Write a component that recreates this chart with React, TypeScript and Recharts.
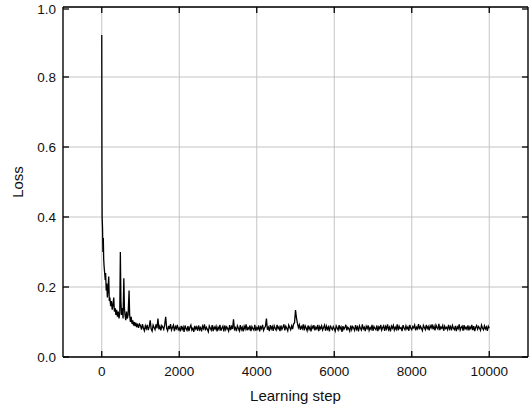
import React from "react";
import {
  LineChart,
  Line,
  XAxis,
  YAxis,
  CartesianGrid,
  Label,
} from "recharts";

// early phase of training
const earlySteps = [
  0, 5, 10, 20, 30, 40, 50, 60, 75, 90, 100, 115, 130, 145, 160, 180, 195, 210,
  230, 250, 270, 290, 310, 325, 345, 365, 385, 405, 425, 445, 465, 480, 495,
  510, 530, 550, 570, 585, 600, 620, 640, 660, 680, 705, 720, 740, 760, 780,
  800, 820, 840, 860, 880, 900, 925, 950, 975,
];
const earlyLoss = [
  0.92, 0.55, 0.4, 0.37, 0.3, 0.34, 0.28, 0.26, 0.24, 0.22, 0.24, 0.19, 0.21,
  0.17, 0.19, 0.23, 0.16, 0.17, 0.145, 0.16, 0.135, 0.15, 0.17, 0.13, 0.14,
  0.12, 0.135, 0.115, 0.13, 0.11, 0.125, 0.3, 0.16, 0.12, 0.14, 0.11, 0.225,
  0.14, 0.12, 0.105, 0.13, 0.11, 0.12, 0.19, 0.12, 0.1, 0.115, 0.095, 0.105,
  0.09, 0.1, 0.088, 0.098, 0.085, 0.095, 0.083, 0.094,
];

// plateau from step 1000 to 10000, one value every 25 steps
const plateauStart = 1000;
const plateauStep = 25;
const plateauLoss = [
  0.09, 0.078, 0.094, 0.083, 0.075, 0.089, 0.081, 0.092, 0.077, 0.086, 0.105, 0.08, 0.074, 0.091, 0.084, 0.078, 0.093, 0.082, 0.11, 0.079,
  0.088, 0.076, 0.09, 0.085, 0.079, 0.093, 0.115, 0.082, 0.075, 0.089, 0.08, 0.094, 0.077, 0.084, 0.091, 0.074, 0.087, 0.081, 0.092, 0.078,
  0.083, 0.073, 0.089, 0.079, 0.086, 0.072, 0.09, 0.081, 0.076, 0.088, 0.074, 0.085, 0.091, 0.077, 0.082, 0.072, 0.089, 0.08, 0.086, 0.075,
  0.09, 0.078, 0.084, 0.073, 0.088, 0.081, 0.093, 0.076, 0.085, 0.079, 0.072, 0.089, 0.083, 0.077, 0.091, 0.074, 0.086, 0.08, 0.088, 0.073,
  0.085, 0.079, 0.092, 0.075, 0.083, 0.088, 0.073, 0.09, 0.078, 0.086, 0.081, 0.074, 0.091, 0.077, 0.087, 0.08, 0.108, 0.079, 0.084, 0.074,
  0.089, 0.082, 0.075, 0.091, 0.078, 0.085, 0.073, 0.088, 0.08, 0.093, 0.076, 0.084, 0.079, 0.09, 0.074, 0.087, 0.081, 0.077, 0.092, 0.075,
  0.084, 0.079, 0.09, 0.073, 0.086, 0.081, 0.092, 0.076, 0.083, 0.088, 0.11, 0.078, 0.085, 0.074, 0.091, 0.08, 0.087, 0.075, 0.089, 0.082,
  0.077, 0.092, 0.081, 0.086, 0.074, 0.09, 0.079, 0.085, 0.093, 0.076, 0.088, 0.082, 0.075, 0.091, 0.084, 0.078, 0.089, 0.08, 0.094, 0.098,
  0.134, 0.112, 0.096, 0.084, 0.092, 0.078, 0.087, 0.081, 0.093, 0.076, 0.089, 0.083, 0.075, 0.09, 0.079, 0.086, 0.073, 0.088, 0.082, 0.091,
  0.076, 0.085, 0.08, 0.092, 0.074, 0.087, 0.081, 0.089, 0.077, 0.084, 0.091, 0.075, 0.088, 0.079, 0.086, 0.073, 0.09, 0.082, 0.078, 0.087,
  0.081, 0.074, 0.089, 0.083, 0.077, 0.091, 0.08, 0.086, 0.072, 0.088, 0.079, 0.084, 0.092, 0.076, 0.085, 0.081, 0.074, 0.09, 0.078, 0.087,
  0.083, 0.076, 0.091, 0.079, 0.086, 0.073, 0.089, 0.082, 0.077, 0.093, 0.08, 0.085, 0.074, 0.088, 0.081, 0.09, 0.076, 0.084, 0.079, 0.092,
  0.075, 0.087, 0.082, 0.078, 0.09, 0.074, 0.086, 0.081, 0.092, 0.077, 0.084, 0.089, 0.075, 0.087, 0.08, 0.093, 0.078, 0.085, 0.073, 0.088,
  0.082, 0.09, 0.077, 0.085, 0.079, 0.093, 0.076, 0.088, 0.081, 0.084, 0.074, 0.091, 0.083, 0.078, 0.089, 0.08, 0.086, 0.075, 0.092, 0.082,
  0.078, 0.087, 0.083, 0.091, 0.076, 0.085, 0.08, 0.094, 0.079, 0.088, 0.082, 0.075, 0.09, 0.084, 0.078, 0.092, 0.081, 0.087, 0.076, 0.089,
  0.083, 0.093, 0.079, 0.088, 0.076, 0.091, 0.084, 0.08, 0.095, 0.077, 0.086, 0.082, 0.09, 0.075, 0.088, 0.081, 0.085, 0.078, 0.092, 0.08,
  0.087, 0.076, 0.09, 0.082, 0.078, 0.089, 0.074, 0.086, 0.081, 0.093, 0.077, 0.084, 0.088, 0.075, 0.091, 0.08, 0.085, 0.079, 0.09, 0.076,
  0.086, 0.081, 0.092, 0.077, 0.088, 0.074, 0.085, 0.09, 0.079, 0.087, 0.082, 0.076, 0.091, 0.083, 0.078, 0.089, 0.08, 0.086, 0.075, 0.088,
  0.082,
];

const xTicks = [0, 2000, 4000, 6000, 8000, 10000];
const yTicks = [0, 0.2, 0.4, 0.6, 0.8, 1.0];

const data = [
  ...earlySteps.map((step, i) => ({ step, loss: earlyLoss[i] })),
  ...plateauLoss.map((loss, i) => ({ step: plateauStart + i * plateauStep, loss })),
];

const W = 530;
const H = 406;
const TOP = 7;
const BOTTOM = 357;
const LEFT = 63;
const RIGHT = 528;
const TICK = 6;
const FONT = "'Liberation Sans', Arial, sans-serif";
const FRAME = { stroke: "#000", strokeWidth: 1.3 };

const BottomTick = ({ x, y, payload }: any) => (
  <g>
    <line x1={x} x2={x} y1={BOTTOM} y2={BOTTOM - TICK} stroke="#000" strokeWidth={1.3} />
    <text x={x} y={y} dy="0.71em" textAnchor="middle" fontSize={13.5} fill="#111" fontFamily={FONT}>
      {payload.value}
    </text>
  </g>
);

const TopTick = ({ x }: any) => (
  <line x1={x} x2={x} y1={TOP} y2={TOP + TICK} stroke="#000" strokeWidth={1.3} />
);

const LeftTick = ({ x, y, payload }: any) => (
  <g>
    <line x1={LEFT} x2={LEFT + TICK} y1={y} y2={y} stroke="#000" strokeWidth={1.3} />
    <text x={x} y={y} dy="0.355em" textAnchor="end" fontSize={13.5} fill="#111" fontFamily={FONT}>
      {Number(payload.value).toFixed(1)}
    </text>
  </g>
);

const RightTick = ({ y }: any) => (
  <line x1={RIGHT} x2={RIGHT - TICK} y1={y} y2={y} stroke="#000" strokeWidth={1.3} />
);

export default function App() {
  return (
    <div style={{ position: "absolute", left: 0, top: 0, background: "#fff" }}>
      <LineChart
        width={W}
        height={H}
        data={data}
        margin={{ top: TOP - 1, right: W - RIGHT - 1, bottom: 0, left: 0 }}
      >
        <CartesianGrid stroke="#c4c4c4" strokeWidth={1} />
        <XAxis
          dataKey="step"
          type="number"
          domain={[-1000, 11000]}
          ticks={xTicks}
          height={H - BOTTOM}
          axisLine={FRAME}
          tickLine={false}
          tickSize={0}
          tickMargin={9}
          tick={<BottomTick />}
        >
          <Label
            value="Learning step"
            position="insideBottom"
            offset={5}
            style={{ fontSize: 15, fill: "#111", fontFamily: FONT }}
          />
        </XAxis>
        <XAxis
          xAxisId="top"
          orientation="top"
          dataKey="step"
          type="number"
          domain={[-1000, 11000]}
          ticks={xTicks}
          height={1}
          axisLine={FRAME}
          tickLine={false}
          tickSize={0}
          tick={<TopTick />}
        />
        <YAxis
          type="number"
          domain={[0, 1]}
          ticks={yTicks}
          width={LEFT}
          axisLine={FRAME}
          tickLine={false}
          tickSize={0}
          tickMargin={7}
          tick={<LeftTick />}
        >
          <Label
            value="Loss"
            angle={-90}
            position="insideLeft"
            offset={18}
            style={{ textAnchor: "middle", fontSize: 15, fill: "#111", fontFamily: FONT }}
          />
        </YAxis>
        <YAxis
          yAxisId="right"
          orientation="right"
          type="number"
          domain={[0, 1]}
          ticks={yTicks}
          width={1}
          axisLine={FRAME}
          tickLine={false}
          tickSize={0}
          tick={<RightTick />}
        />
        {/* invisible twin so the top and right frame axes get drawn */}
        <Line
          xAxisId="top"
          yAxisId="right"
          type="linear"
          dataKey="loss"
          stroke="none"
          dot={false}
          activeDot={false}
          legendType="none"
          isAnimationActive={false}
        />
        <Line
          type="linear"
          dataKey="loss"
          stroke="#000"
          strokeWidth={1.3}
          dot={false}
          isAnimationActive={false}
        />
      </LineChart>
    </div>
  );
}
